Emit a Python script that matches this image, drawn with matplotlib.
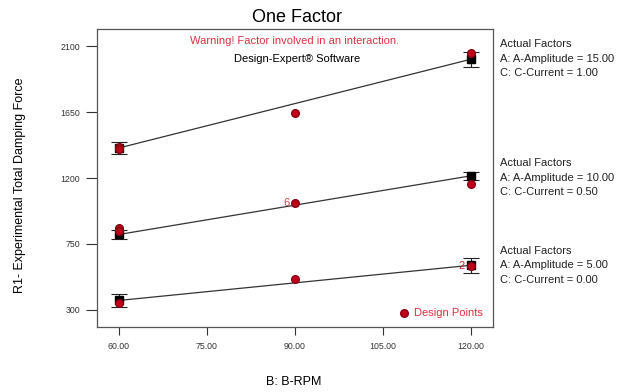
import numpy as np
import matplotlib.pyplot as plt

plt.rcParams['font.family'] = ['Liberation Sans', 'DejaVu Sans']

# B-RPM levels
rpm_ends = [60, 120]

# predicted lines (A=15/C=1, A=10/C=0.5, A=5/C=0)
pred_high = [1405, 2010]
pred_mid = [815, 1215]
pred_low = [365, 605]

# LSD half-widths at the ends
err_high = [40, 50]
err_mid = [30, 28]
err_low = [45, 50]

# design points
pts_x = [60, 60, 90, 120, 60, 60, 90, 120, 60, 90, 120]
pts_y = [1410, 1400, 1640, 2050, 860, 840, 1030, 1160, 348, 511, 600]

factor_labels = [
    ["Actual Factors", "A: A-Amplitude = 15.00", "C: C-Current = 1.00"],
    ["Actual Factors", "A: A-Amplitude = 10.00", "C: C-Current = 0.50"],
    ["Actual Factors", "A: A-Amplitude = 5.00", "C: C-Current = 0.00"],
]

fig = plt.figure(figsize=(6.3, 3.92), dpi=100)
ax = fig.add_axes([97 / 630, 1 - 327 / 392, 396 / 630, 298 / 392])

for pred, err in [(pred_high, err_high), (pred_mid, err_mid), (pred_low, err_low)]:
    ax.plot(rpm_ends, pred, color="#333333", lw=0.9, zorder=2)
    ax.errorbar(rpm_ends, pred, yerr=err, fmt="none", ecolor="#222222",
                elinewidth=0.8, capsize=5.5, capthick=0.8, zorder=3)
    ax.plot(rpm_ends, pred, "s", color="black", ms=5.5, zorder=4)

ax.plot(pts_x, pts_y, "o", color="#c0001a", mec="#8a0010", ms=5.5, zorder=5)
ax.text(89, 1030, "6", color="#d04050", fontsize=8, ha="right", va="center", zorder=6)
ax.text(119, 600, "2", color="#d02030", fontsize=8, ha="right", va="center", zorder=6)

ax.set_xlim(56.25, 123.75)
ax.set_ylim(184, 2216)
ax.set_xticks([60, 75, 90, 105, 120])
ax.set_xticklabels(["60.00", "75.00", "90.00", "105.00", "120.00"])
ax.set_yticks([300, 750, 1200, 1650, 2100])
ax.tick_params(labelsize=6.3, colors="#333333", width=0.8, direction="out")
ax.tick_params(axis="y", length=8, pad=4)
ax.tick_params(axis="x", length=6, pad=5)
for s in ax.spines.values():
    s.set_color("#555555")
    s.set_linewidth(0.9)

ax.text(0.5, 0.975, "Warning! Factor involved in an interaction.", transform=ax.transAxes,
        color="#e03040", fontsize=8, ha="center", va="top")
ax.text(0.505, 0.915, "Design-Expert\u00ae Software", transform=ax.transAxes,
        color="black", fontsize=8, ha="center", va="top")

# legend for design points
ax.plot([108.5], [278], "o", color="#c0001a", mec="#8a0010", ms=5.5, clip_on=False)
ax.text(110.3, 278, "Design Points", color="#e03040", fontsize=8, va="center")

fig.text(297 / 630, 1 - 17 / 392, "One Factor", fontsize=13, ha="center", va="center")
fig.text(294 / 630, 1 - 382 / 392, "B: B-RPM", fontsize=9, ha="center", va="center")
fig.text(20 / 630, 1 - 185 / 392, "R1- Experimental Total Damping Force", fontsize=9,
         rotation=90, ha="center", va="center")

for lines, y0 in zip(factor_labels, [44, 163, 251]):
    for i, line in enumerate(lines):
        fig.text(500 / 630, 1 - (y0 + 14.5 * i) / 392, line, fontsize=8, ha="left",
                 va="center", color="#222222")

fig.savefig("out.png", dpi=100)
